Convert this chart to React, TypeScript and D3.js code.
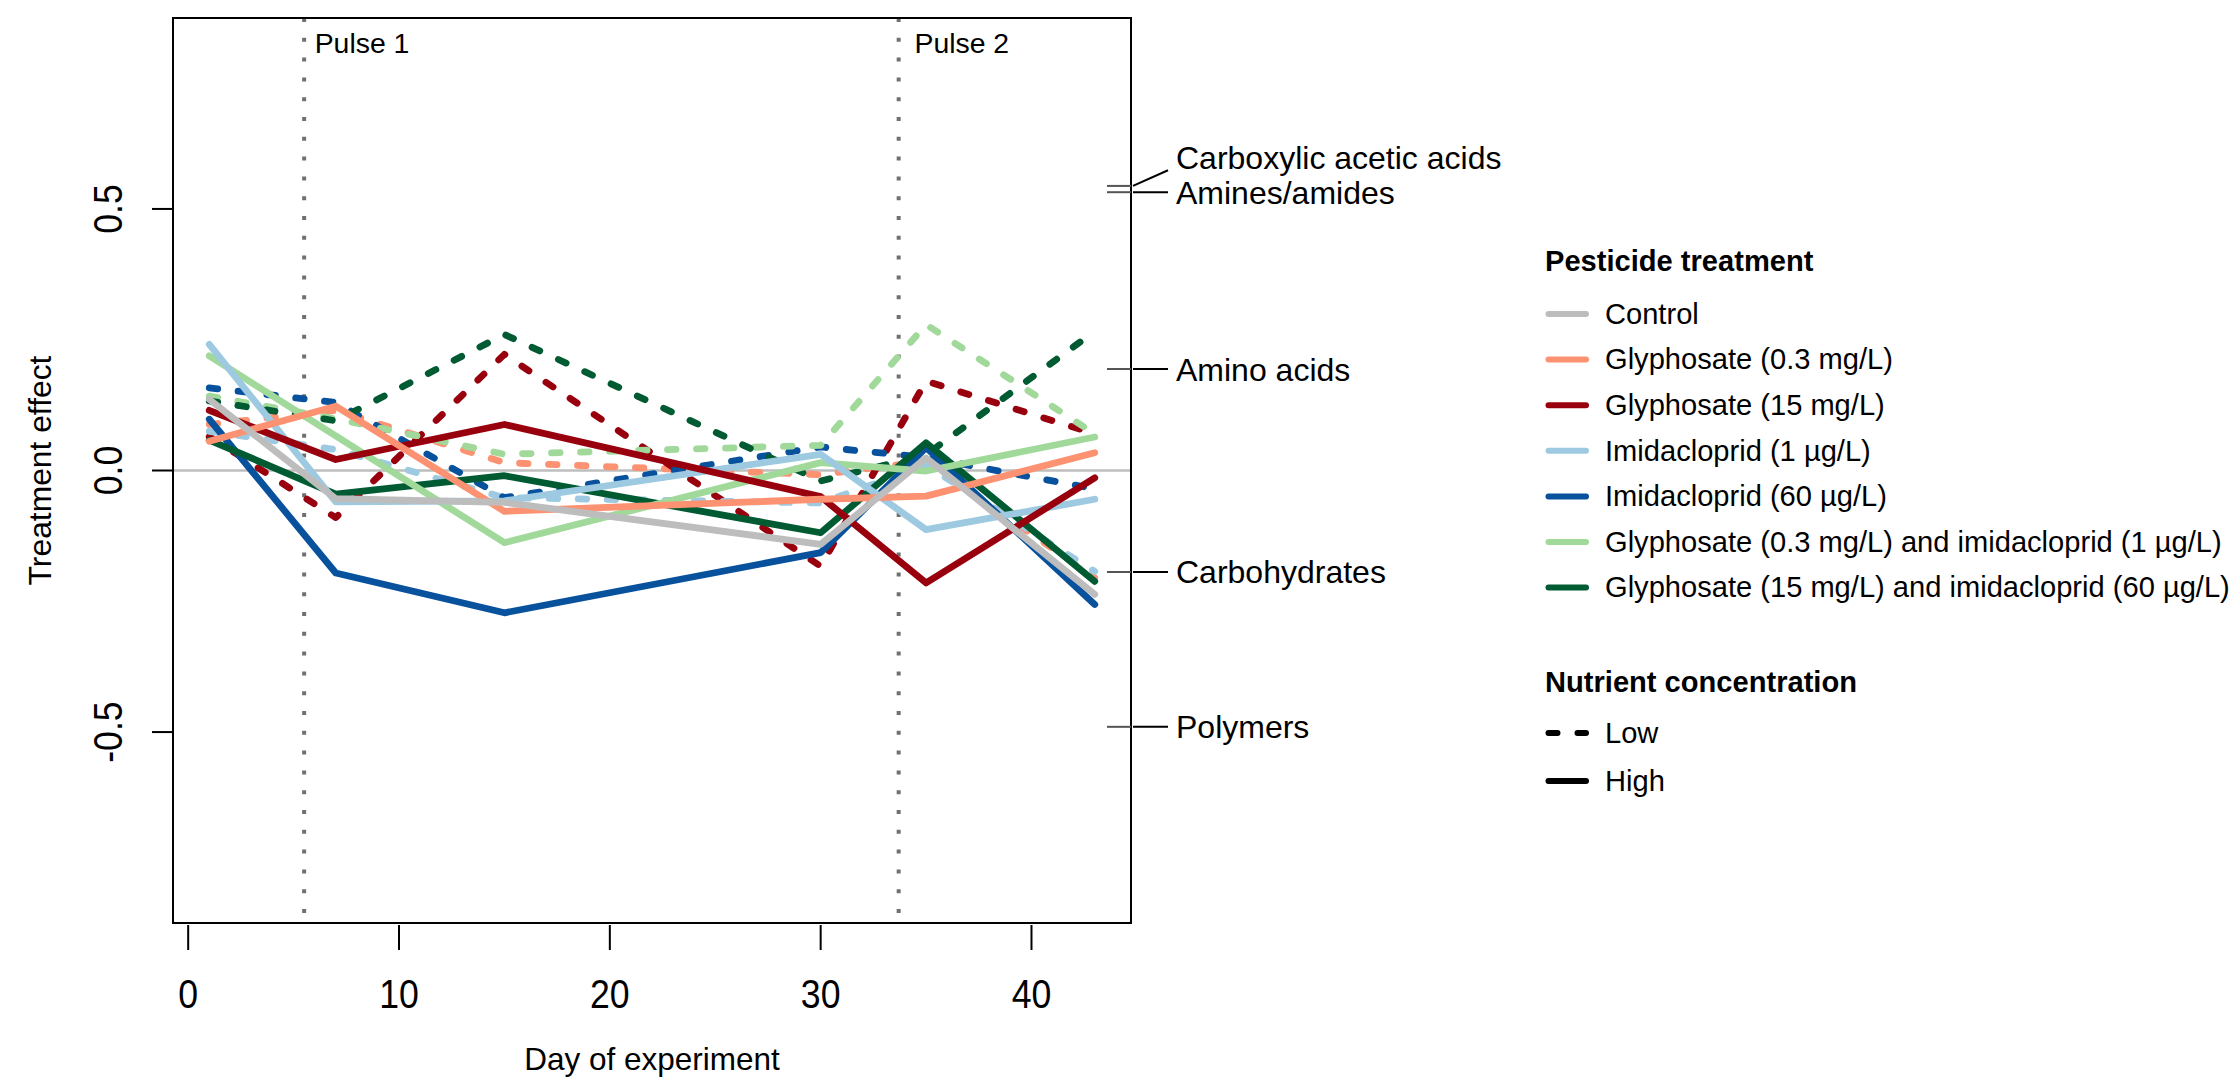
import React from 'react';
import * as d3 from 'd3';

// Sampling days
const days = [1, 7, 15, 30, 35, 43];

const treatmentNames = [
  'Control',
  'Glyphosate (0.3 mg/L)',
  'Glyphosate (15 mg/L)',
  'Imidacloprid (1 µg/L)',
  'Imidacloprid (60 µg/L)',
  'Glyphosate (0.3 mg/L) and imidacloprid (1 µg/L)',
  'Glyphosate (15 mg/L) and imidacloprid (60 µg/L)',
];
const treatmentColors = ['#bdbdbd', '#fc9272', '#99000d', '#9ecae1', '#08519c', '#a1d99b', '#005a32'];

// High nutrient concentration (solid lines)
const highControl = [0.136, -0.054, -0.061, -0.141, 0.024, -0.237];
const highGly03 = [0.056, 0.123, -0.078, -0.055, -0.049, 0.034];
const highGly15 = [0.115, 0.021, 0.088, -0.05, -0.215, -0.014];
const highImi1 = [0.241, -0.06, -0.058, 0.031, -0.113, -0.055];
const highImi60 = [0.098, -0.196, -0.272, -0.157, 0.044, -0.256];
const highMix1 = [0.219, 0.066, -0.138, 0.015, -0.001, 0.064];
const highMix2 = [0.058, -0.045, -0.01, -0.119, 0.053, -0.212];

// Low nutrient concentration (dashed lines)
const lowGly03 = [0.088, 0.115, 0.015, -0.008, 0.018, -0.205];
const lowGly15 = [0.065, -0.09, 0.222, -0.183, 0.171, 0.07];
const lowImi1 = [0.075, 0.04, -0.052, -0.062, 0.01, -0.193];
const lowImi60 = [0.158, 0.13, -0.052, 0.045, 0.025, -0.035];
const lowMix1 = [0.142, 0.099, 0.031, 0.048, 0.279, 0.07];
const lowMix2 = [0.133, 0.095, 0.26, -0.02, 0.03, 0.266];

// Pesticide pulses
const pulseDays = [5.5, 33.7];
const pulseLabels = ['Pulse 1', 'Pulse 2'];
const pulseLabelDays = [6.0, 34.45];

// Compound classes on the right-hand axis
const classNames = ['Carboxylic acetic acids', 'Amines/amides', 'Amino acids', 'Carbohydrates', 'Polymers'];
const classValues = [0.544, 0.532, 0.194, -0.194, -0.49];
const classLeaderValues = [0.574, 0.532, 0.194, -0.194, -0.49];
const classLabelValues = [0.598, 0.532, 0.194, -0.194, -0.49];

const xTicks = [0, 10, 20, 30, 40];
const yTicks = [-0.5, 0, 0.5];

const nutrientLevels = ['Low', 'High'];

const FONT = '"Liberation Sans", Arial, Helvetica, sans-serif';

export default function App() {
  const W = 2235;
  const H = 1079;
  const left = 173;
  const right = 1131;
  const top = 18;
  const bottom = 923;

  const x = d3.scaleLinear().domain([-0.72, 44.72]).range([left, right]);
  const y = d3.scaleLinear().domain([-0.865, 0.865]).range([bottom, top]);

  const line = d3
    .line<number>()
    .x((_, i) => x(days[i]))
    .y((d) => y(d));

  const lowSeries = [
    { values: lowGly03, color: treatmentColors[1] },
    { values: lowGly15, color: treatmentColors[2] },
    { values: lowImi1, color: treatmentColors[3] },
    { values: lowImi60, color: treatmentColors[4] },
    { values: lowMix1, color: treatmentColors[5] },
    { values: lowMix2, color: treatmentColors[6] },
  ];
  const highSeries = [
    { values: highImi60, color: treatmentColors[4] },
    { values: highMix2, color: treatmentColors[6] },
    { values: highMix1, color: treatmentColors[5] },
    { values: highImi1, color: treatmentColors[3] },
    { values: highGly15, color: treatmentColors[2] },
    { values: highGly03, color: treatmentColors[1] },
    { values: highControl, color: treatmentColors[0] },
  ];

  const lw = 6.8;
  const dash = '8.5 20.5';

  const legendX = 1545;
  const legendRow = 45.6;
  const legendTop = 314;
  const nutrientTop = 733;
  const nutrientRow = 48;
  const legendFont = 29.1;
  const tickFont = 40.5;
  const tickSqueeze = 0.88;

  return (
    <svg
      width={W}
      height={H}
      viewBox={`0 0 ${W} ${H}`}
      style={{ position: 'absolute', left: 0, top: 0, display: 'block', background: '#fff' }}
      fontFamily={FONT}
    >
      <rect x={0} y={0} width={W} height={H} fill="#fff" />

      {/* zero reference */}
      <line x1={left} x2={right} y1={y(0)} y2={y(0)} stroke="#bebebe" strokeWidth={2.5} />

      {/* pulse markers */}
      {pulseDays.map((d, i) => (
        <g key={`p${i}`}>
          <line
            x1={x(d)}
            x2={x(d)}
            y1={top}
            y2={bottom}
            stroke="#707070"
            strokeWidth={4}
            strokeDasharray="4 15.8"
          />
          <text x={x(pulseLabelDays[i])} y={52.5} fontSize={28.4} fill="#000">
            {pulseLabels[i]}
          </text>
        </g>
      ))}

      {/* low nutrient lines */}
      {lowSeries.map((s, i) => (
        <path
          key={`l${i}`}
          d={line(s.values) || ''}
          fill="none"
          stroke={s.color}
          strokeWidth={lw}
          strokeDasharray={dash}
          strokeLinecap="round"
          strokeLinejoin="round"
        />
      ))}

      {/* high nutrient lines */}
      {highSeries.map((s, i) => (
        <path
          key={`h${i}`}
          d={line(s.values) || ''}
          fill="none"
          stroke={s.color}
          strokeWidth={lw}
          strokeLinecap="round"
          strokeLinejoin="round"
        />
      ))}

      {/* plot frame */}
      <rect x={left} y={top} width={right - left} height={bottom - top} fill="none" stroke="#000" strokeWidth={2} />

      {/* x axis */}
      {xTicks.map((t) => (
        <g key={`xt${t}`}>
          <line x1={x(t)} x2={x(t)} y1={925} y2={950} stroke="#000" strokeWidth={2} />
          <text
            transform={`translate(${x(t)},1008) scale(${tickSqueeze},1)`}
            fontSize={tickFont}
            textAnchor="middle"
            fill="#000"
          >
            {t}
          </text>
        </g>
      ))}
      <text x={(left + right) / 2} y={1070} fontSize={31.5} textAnchor="middle" fill="#000">
        Day of experiment
      </text>

      {/* y axis */}
      {yTicks.map((t) => (
        <g key={`yt${t}`}>
          <line x1={152} x2={left} y1={y(t)} y2={y(t)} stroke="#000" strokeWidth={2} />
          <text
            transform={`translate(122,${y(t)}) rotate(-90) scale(${tickSqueeze},1)`}
            fontSize={tickFont}
            textAnchor="middle"
            fill="#000"
          >
            {t.toFixed(1)}
          </text>
        </g>
      ))}
      <text transform={`translate(51,${y(0)}) rotate(-90)`} fontSize={31.8} textAnchor="middle" fill="#000">
        Treatment effect
      </text>

      {/* compound classes */}
      {classNames.map((n, i) => (
        <g key={`c${i}`}>
          <line x1={1107} x2={right} y1={y(classValues[i])} y2={y(classValues[i])} stroke="#555" strokeWidth={2} />
          <line
            x1={right + 2}
            x2={1168}
            y1={y(classValues[i])}
            y2={y(classLeaderValues[i])}
            stroke="#000"
            strokeWidth={2}
          />
          <text x={1176} y={y(classLabelValues[i]) + 11.5} fontSize={32} fill="#000">
            {n}
          </text>
        </g>
      ))}

      {/* legend: pesticide treatment */}
      <text x={legendX} y={270.5} fontSize={legendFont} fontWeight="bold" fill="#000">
        Pesticide treatment
      </text>
      {treatmentNames.map((n, i) => {
        const ly = legendTop + i * legendRow;
        return (
          <g key={`lg${i}`}>
            <line
              x1={legendX + 3.5}
              x2={legendX + 41}
              y1={ly}
              y2={ly}
              stroke={treatmentColors[i]}
              strokeWidth={6}
              strokeLinecap="round"
            />
            <text x={legendX + 60} y={ly + 9.8} fontSize={legendFont} fill="#000">
              {n}
            </text>
          </g>
        );
      })}

      {/* legend: nutrient concentration */}
      <text x={legendX} y={692} fontSize={legendFont} fontWeight="bold" fill="#000">
        Nutrient concentration
      </text>
      {nutrientLevels.map((n, i) => {
        const ly = nutrientTop + i * nutrientRow;
        return (
          <g key={`ln${i}`}>
            <line
              x1={legendX + 3.5}
              x2={legendX + 41}
              y1={ly}
              y2={ly}
              stroke="#000"
              strokeWidth={6}
              strokeLinecap="round"
              strokeDasharray={i === 0 ? '9 20' : undefined}
            />
            <text x={legendX + 60} y={ly + 9.8} fontSize={legendFont} fill="#000">
              {n}
            </text>
          </g>
        );
      })}
    </svg>
  );
}
